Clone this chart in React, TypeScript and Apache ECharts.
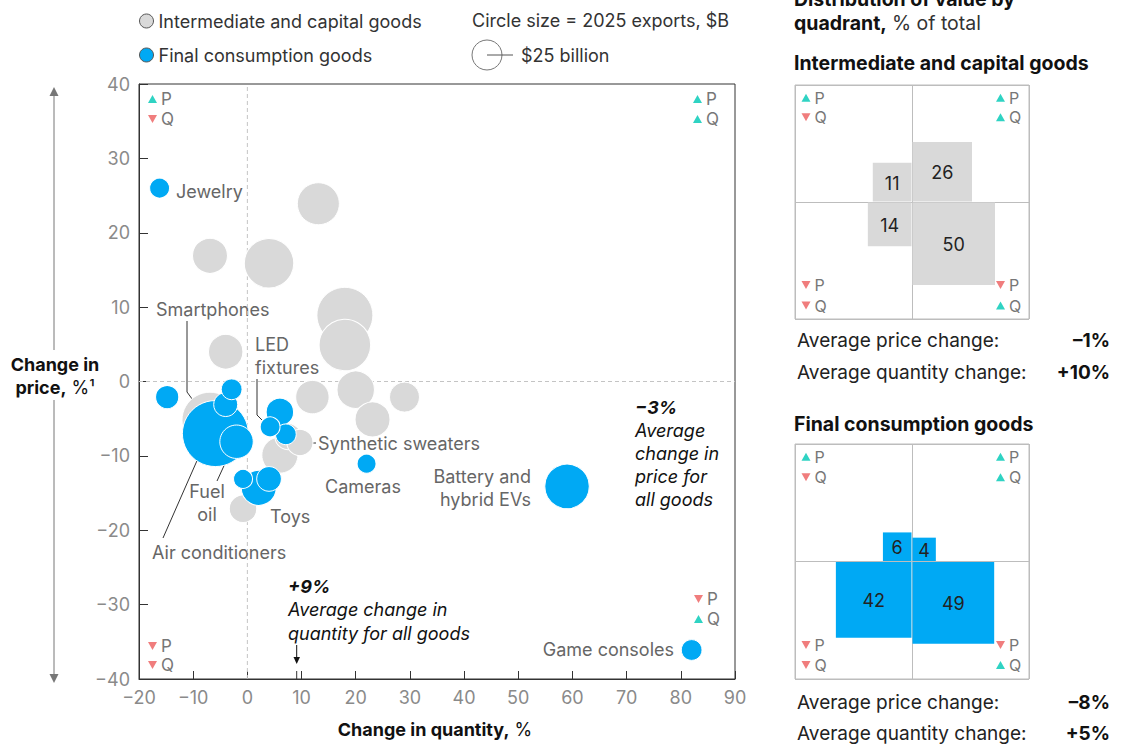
import React, { useEffect, useRef } from "react";
import * as echarts from "echarts";

const FONT = 'Inter, "Liberation Sans", Arial, sans-serif';
const BLUE = "#00a9f4";
const GRAY = "#d9d9d9";
const TEAL = "#2fd3c3";
const RED = "#f07d7d";

// Intermediate and capital goods: change in quantity (%), change in price (%), 2025 exports ($B)
const interQty = [13.1, -6.9, 4.0, 18.0, 18.0, -4.0, 12.0, 20.0, 29.0, 23.1, 7.5, 9.7, 6.0, -0.8, -6.9];
const interPrice = [23.9, 16.9, 15.9, 8.9, 4.9, 4.0, -2.1, -1.1, -2.1, -5.1, -7.4, -8.2, -9.9, -17.1, -5.2];
const interExports = [49, 34, 68, 87, 74, 33, 31, 39, 25, 34, 19, 19, 36, 21, 87];

// Final consumption goods
const finalNames = [
  "Smartphones", "Battery and hybrid EVs", "Toys", "Fuel oil", "", "", "", "",
  "Air conditioners", "Synthetic sweaters", "Game consoles", "LED fixtures", "Jewelry", "", "Cameras",
];
const finalQty = [-5.9, 59.0, 2.1, -2.0, 6.0, 4.0, -4.0, -14.8, -2.9, 7.1, 82.0, 4.2, -16.2, -0.8, 22.0];
const finalPrice = [-7.0, -14.1, -14.3, -8.1, -4.1, -13.1, -3.1, -2.1, -1.05, -7.1, -36.1, -6.1, 26.0, -13.1, -11.05];
const finalExports = [121, 55, 34, 31, 21, 17, 16, 15, 12, 12, 12, 11, 11, 10, 10];

// Axis ranges (also used for zero reference lines)
const qtyRange = [-20, 90];
const priceRange = [-40, 40];

// Distribution of value by quadrant (% of total): TL, TR, BL, BR
const quadDirQty = [-1, 1, -1, 1];
const quadDirPrice = [1, 1, -1, -1];
const interShare = [11, 26, 14, 50];
const finalShare = [6, 4, 42, 49];
const interAvg = ["\u20131%", "+10%"];
const finalAvg = ["\u20138%", "+5%"];
const avgLabels = ["Average price change:", "Average quantity change:"];

const SERIES_NAMES = ["Intermediate and capital goods", "Final consumption goods"];
const sizeOf = (v: number) => 6 * Math.sqrt(v); // $25B -> 30px diameter
const SQUARE_PX = 11.67;

const txt = (x: number, y: number, text: string, o: any = {}) => ({
  type: "text",
  x,
  y,
  silent: true,
  style: {
    text,
    fill: o.fill || "#666",
    fontSize: o.fontSize || 18,
    fontFamily: FONT,
    fontWeight: o.fontWeight || "normal",
    fontStyle: o.fontStyle || "normal",
    align: o.align || "left",
    verticalAlign: "middle",
    rich: o.rich,
  },
});

const tri = (cx: number, cy: number, up: boolean) => ({
  type: "polygon",
  silent: true,
  shape: {
    points: up
      ? [[cx - 4.5, cy + 4], [cx + 4.5, cy + 4], [cx, cy - 4]]
      : [[cx - 4.5, cy - 4], [cx + 4.5, cy - 4], [cx, cy + 4]],
  },
  style: { fill: up ? TEAL : RED },
});

const pq = (x: number, y: number, pUp: boolean, qUp: boolean, gap: number, fs: number) => [
  tri(x + 4.5, y, pUp),
  txt(x + 13, y, "P", { fill: "#777", fontSize: fs }),
  tri(x + 4.5, y + gap, qUp),
  txt(x + 13, y + gap, "Q", { fill: "#777", fontSize: fs }),
];

const line = (points: number[][], color = "#333") => ({
  type: "polyline",
  silent: true,
  shape: { points },
  style: { stroke: color, lineWidth: 1, fill: null },
});

const squaresSeries = (share: number[], color: string, idx: number) => ({
  type: "custom",
  xAxisIndex: idx,
  yAxisIndex: idx,
  silent: true,
  data: share.map((v, i) => [quadDirQty[i], quadDirPrice[i], v]),
  renderItem: (_p: any, api: any) => {
    const o = api.coord([0, 0]);
    const s = Math.sqrt(api.value(2)) * SQUARE_PX;
    const dx = api.value(0);
    const dy = api.value(1);
    const x = dx > 0 ? o[0] + 0.5 : o[0] - s - 0.5;
    const y = dy > 0 ? o[1] - s - 0.5 : o[1] + 0.5;
    return {
      type: "group",
      children: [
        { type: "rect", shape: { x, y, width: s, height: s }, style: { fill: color } },
        {
          type: "text",
          style: {
            text: String(api.value(2)),
            x: x + s / 2,
            y: y + s / 2 + 1,
            align: "center",
            verticalAlign: "middle",
            fontSize: 18,
            fontFamily: FONT,
            fill: "#222",
          },
        },
      ],
    };
  },
});

const panelAxis = (idx: number) => ({
  type: "value",
  gridIndex: idx,
  min: -1,
  max: 1,
  interval: 1,
  axisLine: { show: false },
  axisTick: { show: false },
  axisLabel: { show: false },
  splitLine: { show: true, lineStyle: { color: "#bdbdbd", width: 1 } },
});

const zeroLine = (data: number[][]) => ({
  type: "line",
  data,
  silent: true,
  symbol: "none",
  z: 1,
  lineStyle: { color: "#c4c4c4", width: 1, type: [4, 3] },
});

export default function App() {
  const ref = useRef<HTMLDivElement>(null);
  useEffect(() => {
    if (!ref.current) return;
    const chart = echarts.init(ref.current, undefined, { renderer: "svg" });

    const interData = interQty
      .map((q, i) => [q, interPrice[i], interExports[i]])
      .sort((a, b) => b[2] - a[2]);
    const finalData = finalQty
      .map((q, i) => ({ name: finalNames[i], value: [q, finalPrice[i], finalExports[i]] }))
      .sort((a, b) => b.value[2] - a.value[2]);

    const minus = (v: number) => (v < 0 ? "\u2212" + Math.abs(v) : String(v));
    const rich = (nFill: string, fs = 18) => ({
      b: { fontWeight: "bold", fontSize: fs, fontFamily: FONT, fill: "#111" },
      n: { fontSize: fs, fontFamily: FONT, fill: nFill },
    });

    const graphics: any[] = [
      // size legend
      txt(472, 20, "Circle size = 2025 exports, $B", { fill: "#333" }),
      { type: "circle", silent: true, shape: { cx: 487, cy: 55, r: 15 }, style: { fill: "none", stroke: "#777", lineWidth: 1 } },
      line([[487, 55], [513, 55]], "#555"),
      txt(521, 55, "$25 billion", { fill: "#333" }),
      // y axis title with arrows
      txt(55, 364, "Change in", { fill: "#111", fontWeight: "bold", align: "center" }),
      txt(55, 387, "{b|price,} {n|%\u00b9}", { align: "center", rich: rich("#111") }),
      line([[54, 94], [54, 350]], "#777"),
      { type: "polygon", silent: true, shape: { points: [[49.5, 96], [58.5, 96], [54, 87]] }, style: { fill: "#777" } },
      line([[54, 400], [54, 676]], "#777"),
      { type: "polygon", silent: true, shape: { points: [[49.5, 674], [58.5, 674], [54, 683]] }, style: { fill: "#777" } },
      // x axis title
      txt(435, 729, "{b|Change in quantity,} {n|%}", { align: "center", rich: rich("#111") }),
      // bubble labels
      txt(176, 191, "Jewelry"),
      txt(156, 309, "Smartphones"),
      line([[187, 321], [187, 392], [198, 407]]),
      txt(255, 344, "LED"),
      txt(255, 367, "fixtures"),
      line([[257, 379], [257, 415], [262, 420]]),
      txt(318, 443, "Synthetic sweaters"),
      line([[316, 443], [302, 443], [296, 439]]),
      txt(363, 486, "Cameras", { align: "center" }),
      txt(531, 476, "Battery and", { align: "right" }),
      txt(531, 499, "hybrid EVs", { align: "right" }),
      txt(674, 649, "Game consoles", { align: "right" }),
      txt(207, 491, "Fuel", { align: "center" }),
      txt(207, 514, "oil", { align: "center" }),
      line([[217, 481], [228, 457]]),
      txt(270, 516, "Toys"),
      txt(152, 552, "Air conditioners"),
      line([[163, 538], [225, 397]]),
      // average annotations
      txt(635, 407, "\u22123%", { fill: "#111", fontWeight: "bold", fontStyle: "italic" }),
      txt(635, 430, "Average", { fill: "#111", fontStyle: "italic" }),
      txt(635, 453, "change in", { fill: "#111", fontStyle: "italic" }),
      txt(635, 476, "price for", { fill: "#111", fontStyle: "italic" }),
      txt(635, 499, "all goods", { fill: "#111", fontStyle: "italic" }),
      txt(288, 586, "+9%", { fill: "#111", fontWeight: "bold", fontStyle: "italic" }),
      txt(288, 609, "Average change in", { fill: "#111", fontStyle: "italic" }),
      txt(288, 633, "quantity for all goods", { fill: "#111", fontStyle: "italic" }),
      line([[296.7, 645], [296.7, 658]], "#111"),
      { type: "polygon", silent: true, shape: { points: [[293.5, 657], [300, 657], [296.7, 664]] }, style: { fill: "#111" } },
      line([[296.7, 671], [296.7, 679]], "#333"),
      // main plot quadrant markers
      ...pq(148, 99, true, false, 20, 17),
      ...pq(693, 99, true, true, 20, 17),
      ...pq(148, 646, false, false, 19, 17),
      ...pq(694, 599, false, true, 20, 17),
      // right panel
      txt(794, -1, "Distribution of value by", { fill: "#111", fontWeight: "bold", fontSize: 19.5 }),
      txt(794, 23, "{b|quadrant,} {n|% of total}", { rich: rich("#333", 19.5) }),
      txt(794, 63, "Intermediate and capital goods", { fill: "#111", fontWeight: "bold", fontSize: 19.5 }),
      txt(794, 424, "Final consumption goods", { fill: "#111", fontWeight: "bold", fontSize: 19.5 }),
      ...pq(801.5, 97.7, true, false, 19.6, 16),
      ...pq(996, 97.7, true, true, 19.6, 16),
      ...pq(801.5, 285, false, false, 20.5, 16),
      ...pq(996, 285, false, true, 20.5, 16),
      ...pq(801.5, 456.7, true, false, 20.5, 16),
      ...pq(996, 456.7, true, true, 20.5, 16),
      ...pq(801.5, 645, false, false, 20, 16),
      ...pq(996, 645, false, true, 20, 16),
      txt(797, 340, avgLabels[0], { fill: "#222", fontSize: 19 }),
      txt(1110, 340, interAvg[0], { fill: "#111", fontWeight: "bold", align: "right", fontSize: 19 }),
      txt(797, 372, avgLabels[1], { fill: "#222", fontSize: 19 }),
      txt(1110, 372, interAvg[1], { fill: "#111", fontWeight: "bold", align: "right", fontSize: 19 }),
      txt(797, 702, avgLabels[0], { fill: "#222", fontSize: 19 }),
      txt(1110, 702, finalAvg[0], { fill: "#111", fontWeight: "bold", align: "right", fontSize: 19 }),
      txt(797, 733, avgLabels[1], { fill: "#222", fontSize: 19 }),
      txt(1110, 733, finalAvg[1], { fill: "#111", fontWeight: "bold", align: "right", fontSize: 19 }),
    ];

    chart.setOption({
      animation: false,
      backgroundColor: "#fff",
      textStyle: { fontFamily: FONT },
      legend: {
        data: SERIES_NAMES,
        orient: "vertical",
        left: 139,
        top: 12,
        padding: 0,
        itemWidth: 14,
        itemHeight: 14,
        itemGap: 16,
        icon: "circle",
        selectedMode: false,
        itemStyle: { borderColor: "#555", borderWidth: 1 },
        textStyle: { fontSize: 18, color: "#333", fontFamily: FONT },
      },
      grid: [
        { left: 139, top: 84, width: 596, height: 595, show: true, borderColor: "#333", borderWidth: 1 },
        { left: 795, top: 85, width: 234, height: 234, show: true, borderColor: "#bdbdbd", borderWidth: 1 },
        { left: 795, top: 444, width: 234, height: 235, show: true, borderColor: "#bdbdbd", borderWidth: 1 },
      ],
      xAxis: [
        {
          type: "value",
          gridIndex: 0,
          min: qtyRange[0],
          max: qtyRange[1],
          interval: 10,
          axisLine: { show: true, onZero: false, lineStyle: { color: "#333" } },
          axisTick: { show: true, inside: true, length: 8, lineStyle: { color: "#333" } },
          axisLabel: { fontSize: 18, color: "#8a8a8a", margin: 9, formatter: minus, fontFamily: FONT },
          splitLine: { show: false },
        },
        panelAxis(1),
        panelAxis(2),
      ],
      yAxis: [
        {
          type: "value",
          gridIndex: 0,
          min: priceRange[0],
          max: priceRange[1],
          interval: 10,
          axisLine: { show: true, onZero: false, lineStyle: { color: "#333" } },
          axisTick: { show: true, inside: true, length: 9, lineStyle: { color: "#333" } },
          axisLabel: { fontSize: 18, color: "#8a8a8a", margin: 9, formatter: minus, fontFamily: FONT },
          splitLine: { show: false },
        },
        panelAxis(1),
        panelAxis(2),
      ],
      graphic: graphics,
      series: [
        zeroLine([[0, priceRange[0]], [0, priceRange[1]]]),
        zeroLine([[qtyRange[0], 0], [qtyRange[1], 0]]),
        {
          name: SERIES_NAMES[0],
          type: "scatter",
          data: interData,
          symbolSize: (v: number[]) => sizeOf(v[2]),
          itemStyle: { color: GRAY, borderColor: "#fff", borderWidth: 1, opacity: 1 },
          silent: true,
          z: 2,
        },
        {
          name: SERIES_NAMES[1],
          type: "scatter",
          data: finalData,
          symbolSize: (v: number[]) => sizeOf(v[2]),
          itemStyle: { color: BLUE, borderColor: "#fff", borderWidth: 1, opacity: 1 },
          silent: true,
          z: 3,
        },
        squaresSeries(interShare, GRAY, 1),
        squaresSeries(finalShare, BLUE, 2),
      ],
    });
    return () => chart.dispose();
  }, []);
  return (
    <div
      ref={ref}
      style={{ position: "absolute", left: 0, top: 0, width: 1121, height: 745, background: "#fff" }}
    />
  );
}
